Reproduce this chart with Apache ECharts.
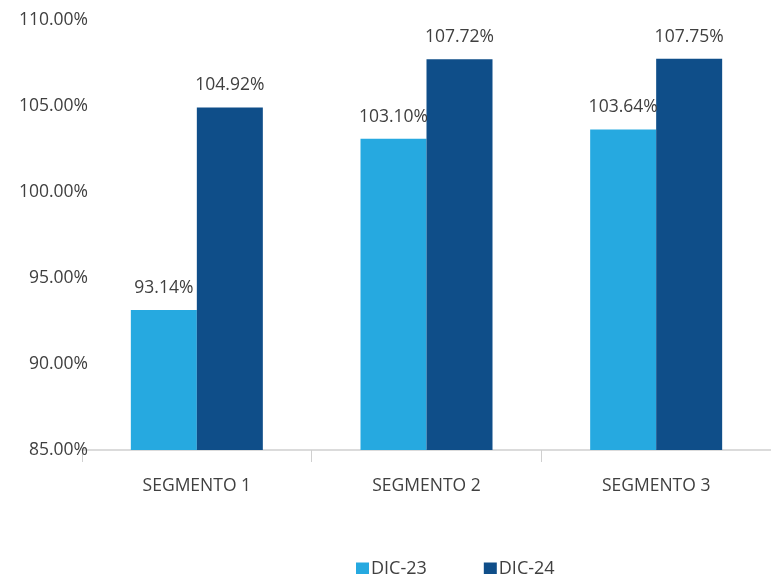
<!DOCTYPE html>
<html><head><meta charset="utf-8">
<script src="https://cdn.jsdelivr.net/npm/echarts@6/dist/echarts.min.js"></script>
<style>html,body{margin:0;padding:0;background:#fff}#c{width:771px;height:574px}</style>
</head><body><div id="c"></div>
<script>
const categories = ['SEGMENTO 1', 'SEGMENTO 2', 'SEGMENTO 3'];
const dic23 = [93.14, 103.10, 103.64];
const dic24 = [104.92, 107.72, 107.75];
const seriesNames = ['DIC-23', 'DIC-24'];
const yTicks = [85, 90, 95, 100, 105, 110];

const font = 'Open Sans';
const txt = '#404040';
const fs = 17.5;
const chart = echarts.init(document.getElementById('c'));
const lbl = {show: true, position: 'top', distance: 13, color: txt, fontSize: fs, fontFamily: font,
  formatter: p => p.value.toFixed(2) + '%'};
chart.setOption({
  animation: false,
  grid: {left: 82, right: -2, top: 20, bottom: 124, containLabel: false},
  legend: {top: 560, left: 356, padding: 0, itemWidth: 13, itemHeight: 13, itemGap: 57, icon: 'rect',
    textStyle: {color: txt, fontSize: 18, fontFamily: font, lineHeight: 14, padding: [0, 0, 0, -3]},
    data: seriesNames},
  xAxis: {type: 'category', data: categories,
    axisLine: {lineStyle: {color: '#d0d0d0', width: 1.5}},
    axisTick: {show: true, length: 12, lineStyle: {color: '#d0d0d0'}},
    axisLabel: {color: txt, fontSize: fs, fontFamily: font, margin: 27}},
  yAxis: {type: 'value', min: yTicks[0], max: yTicks[yTicks.length - 1], interval: 5,
    splitLine: {show: false}, axisLine: {show: false}, axisTick: {show: false},
    axisLabel: {color: txt, fontSize: fs, fontFamily: font, margin: -6,
      formatter: v => v.toFixed(2) + '%'}},
  series: [
    {name: seriesNames[0], type: 'bar', data: dic23, barWidth: 66, barGap: '0%',
     itemStyle: {color: '#26A9E0'}, label: lbl},
    {name: seriesNames[1], type: 'bar', data: dic24, barWidth: 66,
     itemStyle: {color: '#0F4E89'}, label: lbl}
  ]
});
</script></body></html>
